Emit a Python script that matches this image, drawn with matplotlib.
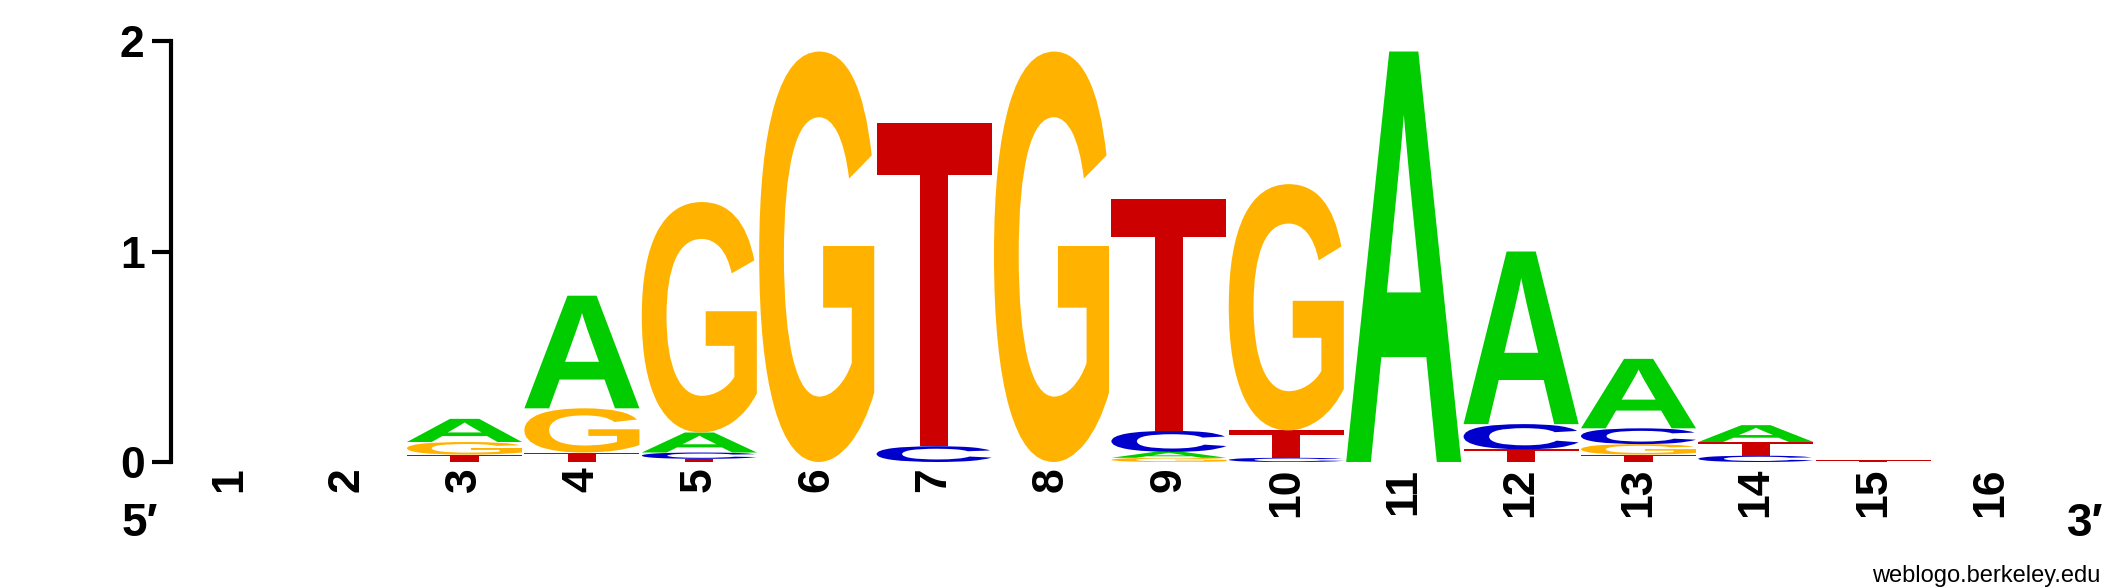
import matplotlib
matplotlib.use("Agg")
import matplotlib.pyplot as plt
from matplotlib.textpath import TextPath
from matplotlib.patches import PathPatch
from matplotlib.font_manager import FontProperties
from matplotlib.transforms import Affine2D

# information content (bits) per letter at each position
positions = list(range(1, 17))
A_bits = [0, 0, 0.11, 0.535, 0.095, 0, 0, 0, 0.028, 0, 1.95, 0.82, 0.33, 0.08, 0, 0]
C_bits = [0, 0, 0, 0, 0.03, 0, 0.075, 0, 0.10, 0.02, 0, 0.12, 0.075, 0.03, 0, 0]
G_bits = [0, 0, 0.06, 0.21, 1.095, 1.95, 0, 1.95, 0.02, 1.17, 0, 0, 0.05, 0, 0, 0]
T_bits = [0, 0, 0.035, 0.045, 0.015, 0, 1.535, 0, 1.10, 0.13, 0, 0.06, 0.035, 0.065, 0.008, 0]

colors = {"A": "#00cc00", "C": "#0000cc", "G": "#ffb300", "T": "#cc0000"}
bits = {"A": A_bits, "C": C_bits, "G": G_bits, "T": T_bits}

font = FontProperties(family="Liberation Sans", weight="bold")

W, H = 2125, 588
fig = plt.figure(figsize=(W / 100, H / 100), dpi=100)
ax = fig.add_axes([171 / W, 126 / H, 16 * 117.4 / W, 421 / H])


def draw_letter(ch, x_center, bottom, height, width=0.98):
    tp = TextPath((0, 0), ch, size=1, prop=font)
    ext = tp.get_extents()
    tr = (Affine2D()
          .translate(-ext.x0, -ext.y0)
          .scale(width / ext.width, height / ext.height)
          .translate(x_center - width / 2, bottom))
    ax.add_patch(PathPatch(tr.transform_path(tp), facecolor=colors[ch],
                           edgecolor="none", lw=0))


for i, p in enumerate(positions):
    stack = sorted([(bits[c][i], c) for c in "ACGT" if bits[c][i] > 0])
    y = 0
    for h, c in stack:
        draw_letter(c, p, y, h)
        y += h

ax.set_xlim(0.5, 16.5)
ax.set_ylim(0, 2)
for s in ["top", "right", "bottom"]:
    ax.spines[s].set_visible(False)
ax.spines["left"].set_linewidth(3)

ax.set_yticks([0, 1, 2])
ax.set_yticklabels(["0", "1", "2"], fontproperties=font, fontsize=32)
ax.tick_params(axis="y", length=14, width=3, pad=5)

ax.set_xticks(positions)
ax.set_xticklabels([str(p) for p in positions], fontproperties=font,
                   fontsize=32, rotation=90, va="top", ha="center")
ax.tick_params(axis="x", length=0, pad=4)

fig.text(140 / W, 1 - 536 / H, "5\u2032", fontsize=33, fontweight="bold",
         family=["Liberation Sans", "DejaVu Sans"], ha="center", va="baseline")
fig.text(2085 / W, 1 - 536 / H, "3\u2032", fontsize=33, fontweight="bold",
         family=["Liberation Sans", "DejaVu Sans"], ha="center", va="baseline")
fig.text(2100 / W, 1 - 582 / H, "weblogo.berkeley.edu", fontsize=17,
         family="Liberation Sans", ha="right", va="baseline")

fig.savefig("out.png", dpi=100)
